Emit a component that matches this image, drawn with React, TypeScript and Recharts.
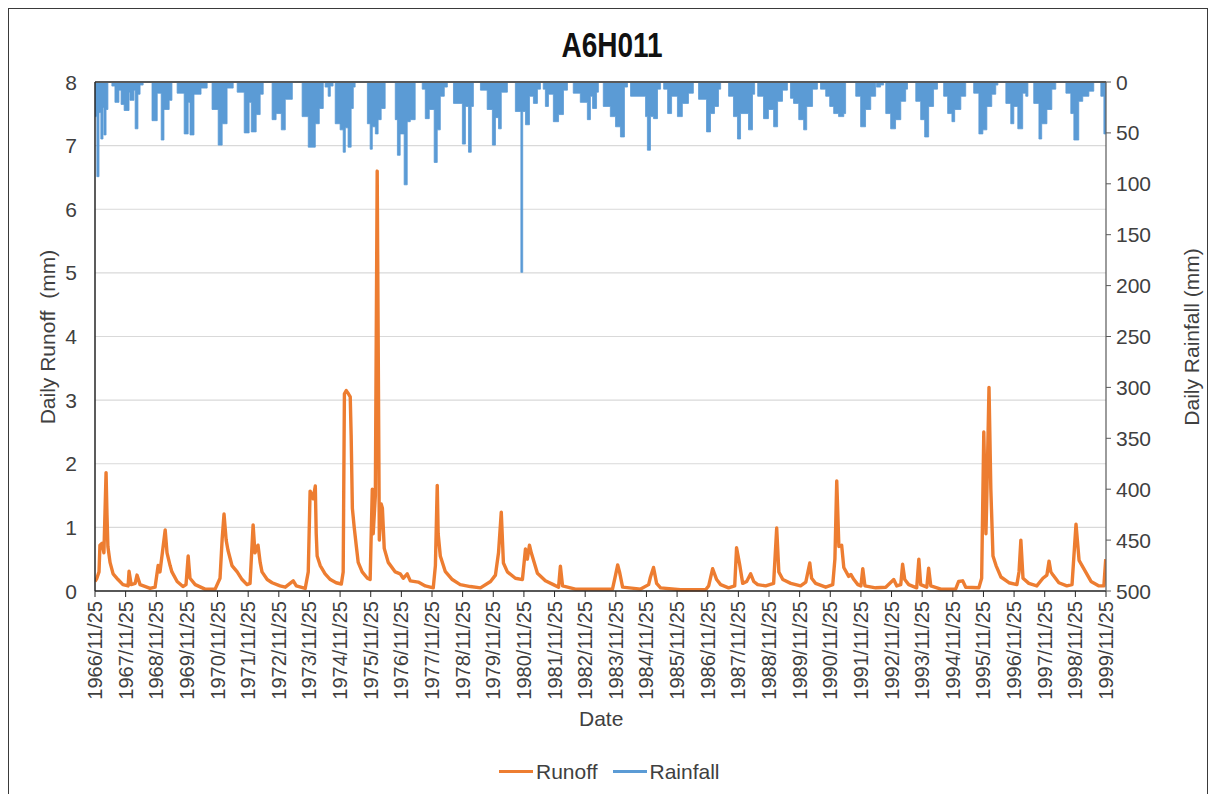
import React from 'react';
import { ComposedChart, Line, Area, XAxis, YAxis, CartesianGrid, ReferenceLine } from 'recharts';

// x values are decimal years; 25 November sits at +0.899
const NOV25 = 0.899;
const TICK_YEARS = [
  1966, 1967, 1968, 1969, 1970, 1971, 1972, 1973, 1974, 1975, 1976, 1977,
  1978, 1979, 1980, 1981, 1982, 1983, 1984, 1985, 1986, 1987, 1988, 1989,
  1990, 1991, 1992, 1993, 1994, 1995, 1996, 1997, 1998, 1999,
];
const RUNOFF_TICKS = [0, 1, 2, 3, 4, 5, 6, 7, 8];
const RAIN_TICKS = [0, 50, 100, 150, 200, 250, 300, 350, 400, 450, 500];

// daily runoff (mm), [year, value]
const runoff: [number, number][] = [
  [1966.90, 0.15], [1966.96, 0.2], [1967.03, 0.3], [1967.06, 0.72], [1967.13, 0.75], [1967.19, 0.6],
  [1967.26, 1.86], [1967.29, 1.2], [1967.32, 0.7], [1967.39, 0.45], [1967.49, 0.27], [1967.65, 0.18],
  [1967.81, 0.1], [1967.98, 0.08], [1968.01, 0.31], [1968.08, 0.1], [1968.21, 0.12], [1968.27, 0.25],
  [1968.37, 0.1], [1968.70, 0.04], [1968.86, 0.06], [1968.96, 0.4], [1969.02, 0.3], [1969.19, 0.96],
  [1969.25, 0.6], [1969.35, 0.4], [1969.41, 0.3], [1969.58, 0.15], [1969.77, 0.07], [1969.87, 0.1],
  [1969.94, 0.55], [1970.00, 0.2], [1970.17, 0.1], [1970.49, 0.03], [1970.82, 0.03], [1970.98, 0.2],
  [1971.05, 0.82], [1971.11, 1.21], [1971.18, 0.8], [1971.24, 0.64], [1971.37, 0.4], [1971.54, 0.3],
  [1971.70, 0.18], [1971.86, 0.1], [1971.96, 0.12], [1972.06, 1.04], [1972.12, 0.6], [1972.22, 0.72],
  [1972.29, 0.45], [1972.35, 0.3], [1972.52, 0.18], [1972.68, 0.13], [1972.94, 0.08], [1973.11, 0.06],
  [1973.37, 0.16], [1973.47, 0.08], [1973.76, 0.04], [1973.86, 0.3], [1973.92, 1.57], [1973.99, 1.5],
  [1974.02, 1.45], [1974.09, 1.65], [1974.12, 0.9], [1974.15, 0.55], [1974.25, 0.4], [1974.41, 0.27],
  [1974.58, 0.18], [1974.77, 0.13], [1974.94, 0.11], [1975.00, 0.3], [1975.04, 3.1], [1975.10, 3.15],
  [1975.17, 3.1], [1975.23, 3.05], [1975.26, 2.45], [1975.30, 1.3], [1975.36, 1.0], [1975.43, 0.7],
  [1975.49, 0.45], [1975.62, 0.3], [1975.79, 0.2], [1975.88, 0.18], [1975.95, 1.6], [1975.98, 0.9],
  [1976.05, 1.5], [1976.11, 6.6], [1976.18, 0.8], [1976.24, 1.37], [1976.28, 1.3], [1976.34, 0.67],
  [1976.47, 0.45], [1976.70, 0.3], [1976.86, 0.27], [1976.96, 0.2], [1977.09, 0.27], [1977.19, 0.16],
  [1977.45, 0.14], [1977.68, 0.08], [1977.94, 0.05], [1978.01, 0.4], [1978.07, 1.66], [1978.10, 0.9],
  [1978.17, 0.55], [1978.33, 0.31], [1978.56, 0.18], [1978.82, 0.1], [1979.15, 0.07], [1979.48, 0.05],
  [1979.81, 0.15], [1979.97, 0.25], [1980.07, 0.6], [1980.16, 1.24], [1980.23, 0.44], [1980.36, 0.3],
  [1980.62, 0.2], [1980.85, 0.18], [1980.95, 0.66], [1981.01, 0.5], [1981.08, 0.72], [1981.14, 0.6],
  [1981.34, 0.28], [1981.60, 0.16], [1981.86, 0.1], [1982.03, 0.06], [1982.09, 0.39], [1982.16, 0.08],
  [1982.58, 0.03], [1983.07, 0.03], [1983.79, 0.03], [1983.89, 0.25], [1983.96, 0.41], [1984.02, 0.3],
  [1984.12, 0.06], [1984.71, 0.03], [1984.97, 0.1], [1985.03, 0.22], [1985.13, 0.37], [1985.23, 0.12],
  [1985.36, 0.05], [1986.01, 0.02], [1986.83, 0.02], [1986.93, 0.08], [1987.06, 0.35], [1987.19, 0.18],
  [1987.32, 0.1], [1987.58, 0.05], [1987.78, 0.08], [1987.84, 0.68], [1987.91, 0.5], [1987.94, 0.42],
  [1988.04, 0.12], [1988.17, 0.15], [1988.30, 0.27], [1988.40, 0.15], [1988.53, 0.1], [1988.79, 0.08],
  [1989.05, 0.12], [1989.15, 0.99], [1989.22, 0.3], [1989.35, 0.18], [1989.61, 0.12], [1989.93, 0.08],
  [1990.10, 0.14], [1990.23, 0.44], [1990.29, 0.2], [1990.42, 0.12], [1990.75, 0.06], [1990.98, 0.1],
  [1991.05, 0.5], [1991.11, 1.73], [1991.18, 0.7], [1991.27, 0.72], [1991.34, 0.37], [1991.50, 0.23],
  [1991.57, 0.26], [1991.67, 0.18], [1991.80, 0.1], [1991.90, 0.08], [1991.96, 0.35], [1992.03, 0.08],
  [1992.38, 0.05], [1992.71, 0.06], [1992.97, 0.18], [1993.07, 0.08], [1993.20, 0.1], [1993.26, 0.42],
  [1993.33, 0.18], [1993.46, 0.1], [1993.72, 0.05], [1993.79, 0.5], [1993.85, 0.1], [1994.05, 0.06],
  [1994.11, 0.36], [1994.18, 0.08], [1994.51, 0.03], [1994.99, 0.03], [1995.09, 0.15], [1995.22, 0.16],
  [1995.32, 0.06], [1995.75, 0.05], [1995.84, 0.2], [1995.91, 2.5], [1995.98, 0.9], [1996.01, 1.5],
  [1996.08, 3.2], [1996.14, 1.6], [1996.21, 0.55], [1996.31, 0.4], [1996.47, 0.22], [1996.73, 0.13],
  [1996.99, 0.1], [1997.06, 0.3], [1997.12, 0.8], [1997.19, 0.2], [1997.38, 0.12], [1997.64, 0.08],
  [1997.84, 0.2], [1997.97, 0.25], [1998.04, 0.47], [1998.10, 0.3], [1998.17, 0.25], [1998.36, 0.13],
  [1998.62, 0.08], [1998.79, 0.1], [1998.92, 1.05], [1999.02, 0.48], [1999.15, 0.37], [1999.41, 0.15],
  [1999.67, 0.08], [1999.83, 0.08], [1999.89, 0.5],
];

// daily rainfall (mm), [year, value]; each value holds until the next entry
const rainfall: [number, number][] = [
  [1966.90, 34], [1966.96, 93], [1967.03, 30], [1967.09, 56], [1967.16, 25], [1967.19, 52], [1967.26, 27], [1967.32, 0],
  [1967.45, 4], [1967.55, 20], [1967.68, 8], [1967.75, 22], [1967.85, 28], [1968.01, 10], [1968.04, 18], [1968.17, 8],
  [1968.21, 46], [1968.30, 12], [1968.37, 3], [1968.47, 0],
  [1968.76, 38], [1968.93, 11], [1969.06, 57], [1969.15, 27], [1969.32, 18], [1969.41, 0],
  [1969.58, 11], [1969.81, 51], [1969.94, 20], [1970.00, 52], [1970.13, 12], [1970.36, 6], [1970.56, 0],
  [1970.72, 27], [1970.92, 62], [1971.05, 41], [1971.21, 6], [1971.41, 0],
  [1971.54, 10], [1971.77, 50], [1971.93, 20], [1972.00, 49], [1972.16, 32], [1972.29, 12], [1972.39, 0],
  [1972.68, 37], [1972.81, 31], [1972.98, 47], [1973.11, 17], [1973.34, 0],
  [1973.66, 34], [1973.86, 64], [1974.09, 41], [1974.22, 26], [1974.35, 0], [1974.41, 5], [1974.51, 14], [1974.58, 4], [1974.67, 0],
  [1974.74, 41], [1974.90, 47], [1975.00, 69], [1975.07, 45], [1975.16, 64], [1975.26, 26], [1975.33, 5], [1975.39, 0],
  [1975.79, 41], [1975.88, 66], [1975.95, 44], [1976.05, 51], [1976.14, 37], [1976.24, 26], [1976.37, 0],
  [1976.70, 37], [1976.77, 72], [1976.86, 51], [1976.99, 101], [1977.09, 39], [1977.19, 37], [1977.35, 0],
  [1977.58, 7], [1977.68, 36], [1977.81, 27], [1977.97, 79], [1978.07, 47], [1978.17, 14], [1978.30, 5], [1978.40, 0],
  [1978.60, 21], [1978.89, 61], [1978.99, 24], [1979.09, 69], [1979.18, 24], [1979.25, 0],
  [1979.48, 8], [1979.70, 27], [1979.87, 62], [1979.97, 35], [1980.07, 46], [1980.16, 10], [1980.36, 0],
  [1980.62, 29], [1980.80, 187], [1980.86, 29], [1980.95, 42], [1981.08, 14], [1981.21, 21], [1981.34, 7], [1981.44, 0],
  [1981.53, 7], [1981.60, 24], [1981.70, 12], [1981.86, 39], [1982.03, 32], [1982.19, 8], [1982.32, 0],
  [1982.51, 11], [1982.74, 20], [1982.97, 37], [1983.07, 14], [1983.14, 26], [1983.27, 10], [1983.33, 0],
  [1983.49, 24], [1983.72, 34], [1983.89, 44], [1984.05, 54], [1984.18, 5], [1984.28, 0],
  [1984.38, 14], [1984.87, 34], [1984.93, 67], [1985.03, 34], [1985.13, 36], [1985.26, 7], [1985.36, 0],
  [1985.46, 7], [1985.59, 31], [1985.72, 14], [1985.91, 34], [1986.07, 21], [1986.27, 11], [1986.43, 0],
  [1986.60, 17], [1986.86, 49], [1986.99, 31], [1987.12, 24], [1987.25, 7], [1987.32, 0],
  [1987.58, 14], [1987.74, 34], [1987.87, 56], [1987.97, 31], [1988.23, 47], [1988.36, 12], [1988.43, 0],
  [1988.53, 14], [1988.72, 36], [1988.88, 27], [1989.05, 44], [1989.18, 19], [1989.34, 8], [1989.50, 0],
  [1989.60, 16], [1989.70, 21], [1989.87, 37], [1990.03, 47], [1990.13, 24], [1990.32, 7], [1990.48, 0],
  [1990.58, 7], [1990.75, 14], [1990.88, 24], [1991.01, 31], [1991.17, 34], [1991.34, 31], [1991.40, 0],
  [1991.73, 14], [1991.89, 44], [1992.05, 27], [1992.22, 14], [1992.38, 0], [1992.41, 5], [1992.54, 3], [1992.64, 0],
  [1992.71, 31], [1992.87, 46], [1993.03, 37], [1993.20, 19], [1993.36, 7], [1993.42, 0],
  [1993.69, 19], [1993.85, 37], [1993.98, 54], [1994.11, 24], [1994.27, 7], [1994.40, 0],
  [1994.60, 14], [1994.73, 31], [1994.87, 39], [1994.96, 27], [1995.16, 14], [1995.32, 0],
  [1995.58, 11], [1995.75, 51], [1995.88, 47], [1996.01, 24], [1996.17, 12], [1996.30, 3], [1996.37, 0],
  [1996.63, 21], [1996.79, 41], [1996.89, 24], [1997.02, 46], [1997.18, 11], [1997.28, 14], [1997.35, 0],
  [1997.54, 21], [1997.71, 56], [1997.80, 41], [1997.97, 27], [1998.13, 7], [1998.26, 0],
  [1998.59, 11], [1998.75, 31], [1998.85, 57], [1999.01, 19], [1999.14, 14], [1999.34, 9], [1999.50, 0],
  [1999.73, 14], [1999.83, 51], [1999.899, 51],
];

const rows = [
  ...runoff.map(([t, v]) => ({ t, runoff: v as number | undefined, rain: undefined as number | undefined })),
  ...rainfall.map(([t, v]) => ({ t, runoff: undefined as number | undefined, rain: v as number | undefined })),
].sort((a, b) => a.t - b.t);

const xTicks = TICK_YEARS.map((y) => y + NOV25);

const FONT = '"Liberation Sans", Arial, sans-serif';
const TEXT = '#404040';
const ORANGE = '#ED7D31';
const BLUE = '#5B9BD5';

function DateTick({ x, y, payload }: any) {
  const year = Math.round(payload.value - NOV25);
  return (
    <text
      transform={`translate(${x},${y + 2}) rotate(-90)`}
      textAnchor="end"
      dominantBaseline="central"
      fontSize={20}
      fontFamily={FONT}
      fill={TEXT}
    >
      {`${year}/11/25`}
    </text>
  );
}

function ValueTick({ x, y, payload, textAnchor }: any) {
  return (
    <text x={x} y={y} textAnchor={textAnchor} dominantBaseline="central" fontSize={21} fontFamily={FONT} fill={TEXT}>
      {payload.value}
    </text>
  );
}

const label: React.CSSProperties = {
  position: 'absolute',
  fontFamily: FONT,
  fontSize: 21,
  color: TEXT,
  whiteSpace: 'nowrap',
  lineHeight: 1,
};

export default function App() {
  return (
    <div
      style={{
        position: 'relative',
        width: 1200,
        height: 786,
        borderTop: '1px solid #3a3a3a',
        borderLeft: '1px solid #3a3a3a',
        borderRight: '1px solid #3a3a3a',
        boxSizing: 'border-box',
        background: '#fff',
      }}
    >
      <ComposedChart
        width={1200}
        height={786}
        data={rows}
        margin={{ top: 73, right: 0, bottom: 0, left: -1 }}
        style={{ position: 'absolute', left: 0, top: 0 }}
      >
        <CartesianGrid yAxisId="left" vertical={false} stroke="#d9d9d9" strokeWidth={1.2} />
        <XAxis
          dataKey="t"
          type="number"
          domain={[TICK_YEARS[0] + NOV25, TICK_YEARS[TICK_YEARS.length - 1] + NOV25]}
          ticks={xTicks}
          interval={0}
          allowDataOverflow
          height={204}
          tick={<DateTick />}
          tickSize={6}
          tickLine={{ stroke: '#262626' }}
          axisLine={{ stroke: '#262626', strokeWidth: 1.5 }}
        />
        <YAxis
          yAxisId="left"
          domain={[0, 8]}
          ticks={RUNOFF_TICKS}
          width={87}
          tickSize={0}
          tickMargin={18}
          tick={<ValueTick />}
          axisLine={{ stroke: '#262626', strokeWidth: 1.5 }}
          tickLine={false}
        />
        <YAxis
          yAxisId="right"
          orientation="right"
          reversed
          domain={[0, 500]}
          ticks={RAIN_TICKS}
          width={103}
          tickSize={5}
          tickMargin={5}
          tick={<ValueTick />}
          axisLine={{ stroke: '#595959', strokeWidth: 1.2 }}
          tickLine={{ stroke: '#595959' }}
        />
        <Area
          yAxisId="right"
          dataKey="rain"
          type="stepAfter"
          baseValue={0}
          connectNulls
          fill={BLUE}
          fillOpacity={1}
          stroke={BLUE}
          strokeWidth={0.8}
          dot={false}
          activeDot={false}
          isAnimationActive={false}
        />
        <Line
          yAxisId="left"
          dataKey="runoff"
          type="linear"
          connectNulls
          stroke={ORANGE}
          strokeWidth={3.4}
          strokeLinejoin="round"
          dot={false}
          activeDot={false}
          isAnimationActive={false}
        />
        <ReferenceLine yAxisId="right" y={0} stroke="#595959" strokeWidth={2} />
      </ComposedChart>

      <div style={{ ...label, left: 0, width: 1200, top: 23, textAlign: 'center', fontWeight: 'bold', fontSize: 28, color: '#111' }}>
        <span style={{ display: 'inline-block', transform: 'scaleY(1.25)', marginLeft: 6 }}>A6H011</span>
      </div>
      <div style={{ ...label, left: 38, top: 328, transform: 'translate(-50%, -50%) rotate(-90deg)' }}>Daily Runoff&nbsp; (mm)</div>
      <div style={{ ...label, left: 1182, top: 328, transform: 'translate(-50%, -50%) rotate(-90deg)' }}>Daily Rainfall (mm)</div>
      <div style={{ ...label, left: 570, top: 699 }}>Date</div>

      <div style={{ ...label, left: 490, top: 752, display: 'flex', alignItems: 'center' }}>
        <span style={{ display: 'inline-block', width: 34, height: 3, background: ORANGE, marginRight: 3 }} />
        <span>Runoff</span>
        <span style={{ display: 'inline-block', width: 34, height: 3, background: BLUE, marginLeft: 15, marginRight: 3 }} />
        <span>Rainfall</span>
      </div>
    </div>
  );
}
